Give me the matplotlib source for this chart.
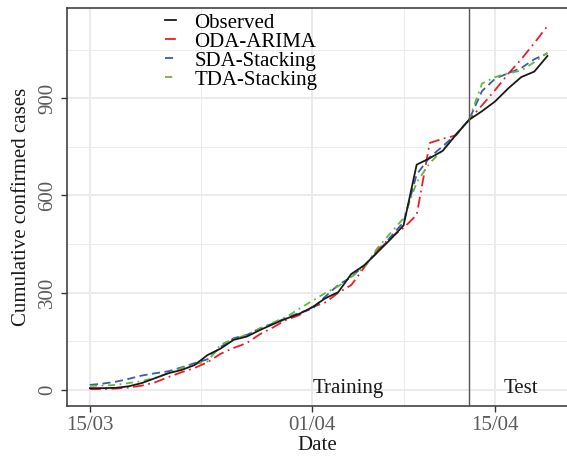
import matplotlib
matplotlib.use("Agg")
import matplotlib.pyplot as plt
import matplotlib.dates as mdates
import numpy as np
import pandas as pd

dates = pd.date_range("2020-03-15", "2020-04-19", freq="D")

observed = [6, 6, 7, 12, 22, 37, 52, 62, 77, 108, 128, 155, 165, 185, 203, 220,
            235, 255, 283, 302, 358, 385, 425, 465, 508, 695, 715, 738, 787, 833,
            860, 890, 930, 965, 982, 1030]
oda_arima = [3, 3, 5, 8, 14, 24, 40, 55, 68, 86, 112, 130, 145, 172, 193, 216,
             231, 256, 270, 300, 324, 379, 432, 470, 500, 540, 762, 775, 785, 833,
             878, 925, 975, 1020, 1070, 1122]
sda_stacking = [16, 20, 26, 35, 45, 52, 58, 70, 83, 95, 133, 160, 170, 190, 205, 222,
                238, 250, 288, 324, 349, 385, 425, 472, 518, 665, 718, 752, 788, 833,
                922, 960, 977, 993, 1020, 1038]
tda_stacking = [13, 14, 16, 22, 28, 38, 52, 68, 80, 88, 140, 158, 170, 190, 208, 225,
                250, 275, 299, 320, 349, 379, 438, 484, 530, 640, 700, 740, 786, 833,
                945, 965, 977, 985, 1011, 1040]

split_date = pd.Timestamp("2020-04-13")
xtick_dates = pd.to_datetime(["2020-03-15", "2020-04-01", "2020-04-15"])
xminor_dates = [pd.Timestamp("2020-03-23 12:00"), pd.Timestamp("2020-04-08")]
ytick_vals = [0, 300, 600, 900]
yminor_vals = [150, 450, 750, 1050]

plt.rcParams['font.family'] = ['Liberation Serif', 'DejaVu Serif']

fig = plt.figure(figsize=(5.67, 4.61), dpi=100)
ax = fig.add_axes([67/567, (461-406)/461, 1 - 67/567, (406-8)/461])

ax.set_xlim(pd.Timestamp("2020-03-15") - pd.Timedelta(hours=42),
            pd.Timestamp("2020-03-15") + pd.Timedelta(hours=int(36.5*24)))
ax.set_ylim(-49, 1178)

# grid
for v in ytick_vals:
    ax.axhline(v, color='#EBEBEB', lw=1.4, zorder=0)
for v in yminor_vals:
    ax.axhline(v, color='#EBEBEB', lw=0.7, zorder=0)
for d in xtick_dates:
    ax.axvline(d, color='#EBEBEB', lw=1.4, zorder=0)
for d in xminor_dates:
    ax.axvline(d, color='#EBEBEB', lw=0.7, zorder=0)

ax.plot(dates, observed, color='#1A1A1A', lw=1.3, label='Observed', zorder=5)
ax.plot(dates, oda_arima, color='#EE1C25', lw=1.3, dashes=(6, 2.5, 1, 2.5), label='ODA-ARIMA', zorder=3)
ax.plot(dates, sda_stacking, color='#3B5BA9', lw=1.3, dashes=(4.5, 2.5), label='SDA-Stacking', zorder=3)
ax.plot(dates, tda_stacking, color='#66B640', lw=1.3, dashes=(4, 2.5, 1, 2.5), label='TDA-Stacking', zorder=4)

ax.axvline(split_date, color='#555555', lw=1.0, zorder=6)

ax.text(pd.Timestamp("2020-04-03 18:00"), 5, 'Training', fontsize=15, ha='center', va='center', color='#1A1A1A')
ax.text(pd.Timestamp("2020-04-17"), 5, 'Test', fontsize=15, ha='center', va='center', color='#1A1A1A')

ax.set_xticks(xtick_dates)
ax.set_xticklabels([d.strftime('%d/%m') for d in xtick_dates])
ax.set_yticks(ytick_vals)
ax.set_yticklabels([str(v) for v in ytick_vals], rotation=90, va='center')
ax.tick_params(axis='both', labelsize=15, labelcolor='#5A5A5A', color='#333333',
               length=4, width=1.0, direction='out')
ax.tick_params(axis='x', pad=3)
ax.tick_params(axis='y', pad=3)

ax.set_xlabel('Date', fontsize=15, color='#1A1A1A', labelpad=1)
ax.set_ylabel('Cumulative confirmed cases', fontsize=15, color='#1A1A1A', labelpad=5)

for s in ['left', 'bottom', 'top']:
    ax.spines[s].set_color('#333333')
    ax.spines[s].set_linewidth(1.1)
ax.spines['right'].set_visible(False)

leg = ax.legend(loc='upper left', bbox_to_anchor=(0.18, 1.008), frameon=False,
                fontsize=15, handlelength=0.5, handletextpad=0.9,
                labelspacing=-0.03, borderaxespad=0)

fig.savefig('out.png', dpi=100)
